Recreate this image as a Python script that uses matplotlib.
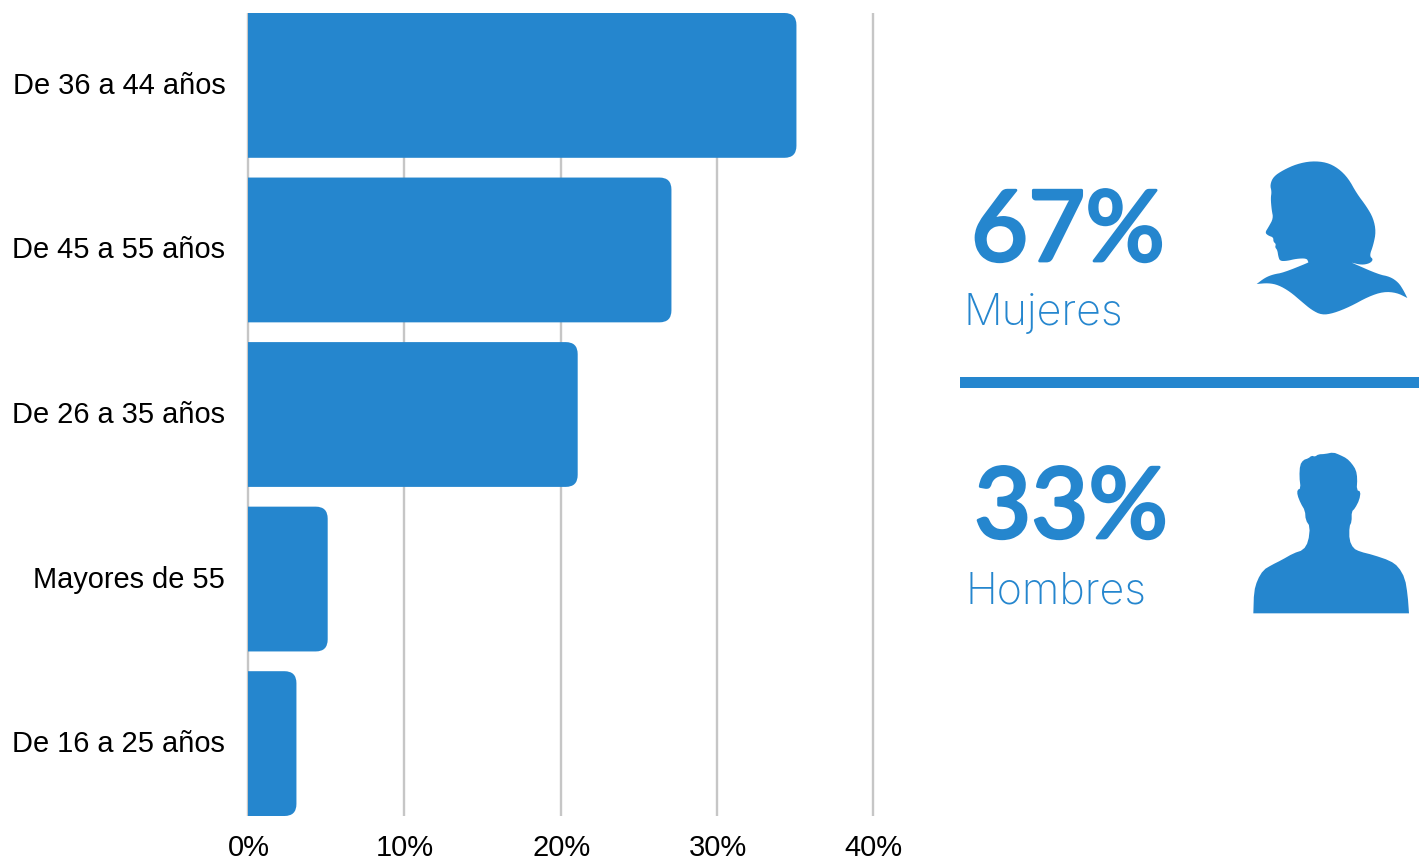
import matplotlib
matplotlib.use('Agg')
import matplotlib.pyplot as plt
import matplotlib.patheffects as pe
from matplotlib.path import Path
from matplotlib.patches import PathPatch, Polygon, Rectangle
from matplotlib.transforms import ScaledTranslation

# --- Datos ---
grupos = ['De 36 a 44 años', 'De 45 a 55 años', 'De 26 a 35 años', 'Mayores de 55', 'De 16 a 25 años']
valores = [35.1, 27.1, 21.1, 5.1, 3.1]
ticks_x = [0, 10, 20, 30, 40]
generos = ['Mujeres', 'Hombres']
porcentajes = [67, 33]

AZUL = '#2586CE'
GRIS = '#C6C6C6'
W, H = 1419, 857

# siluetas, en pixeles de la imagen
mujer = [(215, 33), (260, 37), (295, 55), (325, 85), (350, 130), (380, 170), (400, 205), (408, 245),
         (400, 285), (388, 318), (400, 328), (390, 340), (365, 345), (335, 338), (335, 338), (415, 373),
         (450, 380), (475, 397), (490, 420), (502, 444), (502, 444), (470, 428), (430, 425), (385, 440),
         (330, 470), (280, 490), (245, 495), (215, 480), (185, 455), (150, 425), (115, 405), (85, 399),
         (50, 402), (50, 402), (75, 383), (100, 373), (130, 368), (205, 338), (205, 336), (200, 325),
         (170, 326), (140, 333), (120, 333), (115, 320), (112, 300), (105, 292), (108, 282), (100, 275),
         (100, 262), (85, 257), (75, 248), (85, 232), (100, 205), (95, 180), (92, 145), (95, 125),
         (90, 105), (100, 80), (130, 60), (170, 42)]
hombre = [(40, 505), (40, 505), (42, 440), (52, 405), (70, 375), (95, 360), (125, 345), (160, 325),
          (190, 315), (205, 290), (210, 245), (197, 225), (195, 197), (182, 175), (172, 150), (172, 135),
          (182, 130), (178, 95), (180, 60), (190, 45), (205, 40), (215, 32), (225, 35), (235, 28),
          (255, 27), (280, 22), (300, 30), (320, 40), (335, 55), (348, 75), (352, 100), (350, 135),
          (362, 140), (358, 165), (345, 190), (335, 200), (335, 230), (328, 245), (328, 285), (340, 310),
          (360, 320), (400, 330), (450, 347), (475, 365), (495, 400), (503, 450), (507, 505), (507, 505)]


def suavizar(puntos, veces=2):
    for _ in range(veces):
        nuevos = []
        for i, (x0, y0) in enumerate(puntos):
            x1, y1 = puntos[(i + 1) % len(puntos)]
            nuevos.append((0.75 * x0 + 0.25 * x1, 0.75 * y0 + 0.25 * y1))
            nuevos.append((0.25 * x0 + 0.75 * x1, 0.25 * y0 + 0.75 * y1))
        puntos = nuevos
    return puntos


def barra_redondeada(ax, y, valor, alto, rx, ry):
    # barra con las dos esquinas derechas redondeadas
    y0, y1 = y - alto / 2, y + alto / 2
    verts = [(0, y0), (valor - rx, y0), (valor, y0), (valor, y0 + ry), (valor, y1 - ry),
             (valor, y1), (valor - rx, y1), (0, y1), (0, y0)]
    codes = [Path.MOVETO, Path.LINETO, Path.CURVE3, Path.CURVE3, Path.LINETO,
             Path.CURVE3, Path.CURVE3, Path.LINETO, Path.CLOSEPOLY]
    ax.add_patch(PathPatch(Path(verts, codes), facecolor=AZUL, edgecolor='none', zorder=3))


fig = plt.figure(figsize=(W / 100, H / 100), dpi=100, facecolor='white')
ax = fig.add_axes([248 / W, 1 - 816 / H, (873 - 248) / W, (816 - 13) / H])

alto_barra = 0.88
for i, v in enumerate(valores):
    barra_redondeada(ax, i, v, alto_barra, 12 * 40 / 625, 12 * 4.88 / 803)

ax.set_xlim(0, 40)
ax.set_ylim(4.44, -0.44)
ax.set_xticks(ticks_x)
ax.set_xticklabels([f'{t}%' for t in ticks_x], fontsize=21, fontfamily='Liberation Sans')
ax.set_yticks(range(len(grupos)))
ax.set_yticklabels(grupos, fontsize=20.9, fontfamily='Liberation Sans')
ax.tick_params(length=0)
ax.tick_params(axis='y', pad=16.3)
ax.tick_params(axis='x', pad=13)
for s in ax.spines.values():
    s.set_visible(False)
ax.grid(axis='x', color=GRIS, linewidth=1.7, zorder=0)
ax.set_axisbelow(True)
for g in ax.get_xgridlines():
    g.set_clip_on(False)
    g.set_solid_capstyle('butt')

# ajuste fino de las etiquetas
for lab in ax.get_xticklabels():
    lab.set_transform(lab.get_transform() + ScaledTranslation(0.008, 0, fig.dpi_scale_trans))
for lab in ax.get_yticklabels():
    lab.set_transform(lab.get_transform() + ScaledTranslation(0, 0.025, fig.dpi_scale_trans))

# panel derecho, en pixeles
panel = fig.add_axes([0, 0, 1, 1], facecolor='none')
panel.set_xlim(0, W)
panel.set_ylim(H, 0)
panel.axis('off')

panel.add_patch(Rectangle((960, 377), W - 960, 11, facecolor=AZUL, edgecolor='none'))

pos_num = [(1068, 261), (1071, 538)]
pos_gen = [(964, 325), (966, 603)]
for gen, pct, pn, pg in zip(generos, porcentajes, pos_num, pos_gen):
    # el trazo extra engrosa los numeros sin llegar a la negrita de Lato
    panel.text(pn[0], pn[1], f'{pct}%', color=AZUL, fontsize=71, fontfamily='Lato',
               fontweight='medium', ha='center', va='baseline',
               path_effects=[pe.withStroke(linewidth=2.0, foreground=AZUL)])
    panel.text(pg[0], pg[1], gen, color=AZUL, fontsize=31, fontfamily='Inter',
               fontweight='light', ha='left', va='baseline')

panel.add_patch(Polygon([(1240 + x / 3, 150 + y / 3) for x, y in suavizar(mujer, 2)],
                        closed=True, facecolor=AZUL, edgecolor='none'))
panel.add_patch(Polygon([(1240 + x / 3, 445 + y / 3) for x, y in suavizar(hombre, 1)],
                        closed=True, facecolor=AZUL, edgecolor='none'))

fig.savefig('out.png', dpi=100)
